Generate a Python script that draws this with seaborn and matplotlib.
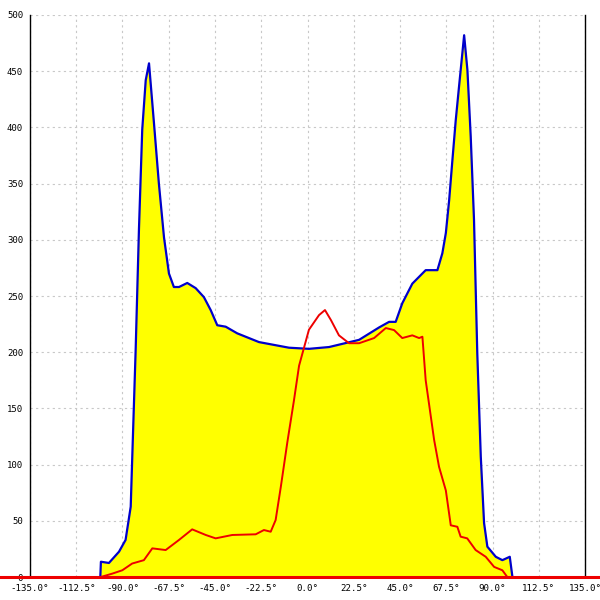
import matplotlib
matplotlib.use("Agg")
import matplotlib.pyplot as plt
import numpy as np
import pandas as pd
import seaborn as sns

# blue envelope (filled yellow)
blue_deg = [-100.8, -100.5, -96.6, -91.7, -88.5, -86.0, -85.4, -83.6, -82.0, -80.4, -78.7,
            -77.1, -74.7, -72.3, -69.8, -67.4, -65.0, -62.5, -58.5, -54.4, -50.4, -47.1,
            -43.9, -39.8, -34.2, -23.6, -9.0, 0.7, 10.5, 25.1, 34.8, 39.7, 42.9, 46.1,
            51.0, 57.5, 63.2, 65.6, 67.3, 68.9, 70.5, 72.1, 73.7, 76.2, 77.8, 79.4, 81.0,
            81.8, 82.6, 84.3, 85.9, 87.5, 91.6, 94.8, 98.4, 99.7]
blue_val = [0, 13.6, 12.5, 22.5, 33, 62.6, 98, 202, 309, 398, 442,
            457, 404, 350, 302, 270, 258, 258, 261.6, 257, 249, 237.5,
            224, 222.7, 216.8, 209, 204, 203, 204.6, 211, 222, 227, 227, 243.5,
            261, 273, 273, 288, 306, 335, 371, 406, 436, 482, 451, 392, 318,
            258, 199, 107, 48, 27, 18, 15, 18, 0]

# red curve
red_deg = [-100.6, -95.0, -90.1, -85.3, -79.6, -75.5, -69.0, -62.5, -56.1, -49.5, -44.7,
           -36.6, -25.2, -21.2, -17.9, -15.5, -13.0, -9.8, -6.6, -4.1, 0.7, 5.6, 8.5,
           11.4, 15.3, 20.2, 25.1, 32.4, 38.1, 42.1, 46.1, 51.0, 54.3, 55.9, 57.5,
           61.6, 64.0, 67.3, 69.7, 72.9, 74.5, 77.7, 81.8, 86.7, 90.8, 94.8, 97.2]
red_val = [0, 3, 6, 12, 15, 25.5, 24, 33, 42.4, 37.4, 34.4,
           37.4, 38, 41.8, 40.3, 50.7, 80, 120, 157, 188, 220, 233, 237.5,
           228.6, 215, 208, 208, 212.6, 221.5, 219.7, 212.6, 215, 212.6, 213.8, 175,
           122, 98, 77, 46, 44.7, 35.9, 34.4, 24, 18, 9, 6, 0]

x_ticks = [-135.0, -112.5, -90.0, -67.5, -45.0, -22.5, 0.0, 22.5, 45.0, 67.5, 90.0, 112.5, 135.0]
y_ticks = [0, 50, 100, 150, 200, 250, 300, 350, 400, 450, 500]

blue_df = pd.DataFrame({"deg": blue_deg, "val": blue_val})
red_df = pd.DataFrame({"deg": red_deg, "val": red_val})

sns.set_style("white")
fig = plt.figure(figsize=(6, 6), dpi=100)
ax = fig.add_axes([0.05, 0.0383, 0.925, 0.9367])

ax.fill_between(blue_df["deg"], 0, blue_df["val"], color="#ffff00", lw=0, zorder=1)
sns.lineplot(data=blue_df, x="deg", y="val", sort=False, color="#0000cc", lw=1.6, ax=ax, zorder=3)
sns.lineplot(data=red_df, x="deg", y="val", sort=False, color="#ee0000", lw=1.4, ax=ax, zorder=4)
ax.plot([-150, 150], [0, 0], color="#ee0000", lw=2.2, clip_on=False, zorder=5)

ax.set_xlim(-135, 135)
ax.set_ylim(0, 500)
ax.set_xticks(x_ticks)
ax.set_xticklabels([f"{t:.1f}°" for t in x_ticks])
ax.set_yticks(y_ticks)
ax.set_yticklabels([str(t) for t in y_ticks])
ax.grid(True, color="#c8c8c8", linestyle=(0, (2, 3)), lw=0.8, zorder=0)
ax.set_axisbelow(True)
ax.tick_params(direction="inout", length=6, width=1, colors="black", labelsize=6.5, pad=2)
ax.tick_params(axis="x", labelsize=6.6)
for lab in ax.get_xticklabels() + ax.get_yticklabels():
    lab.set_family("DejaVu Sans Mono")
ax.spines["top"].set_visible(False)
for s in ["left", "bottom", "right"]:
    ax.spines[s].set_color("black")
    ax.spines[s].set_linewidth(1)
ax.set_xlabel("")
ax.set_ylabel("")

fig.savefig("out.png", dpi=100)
